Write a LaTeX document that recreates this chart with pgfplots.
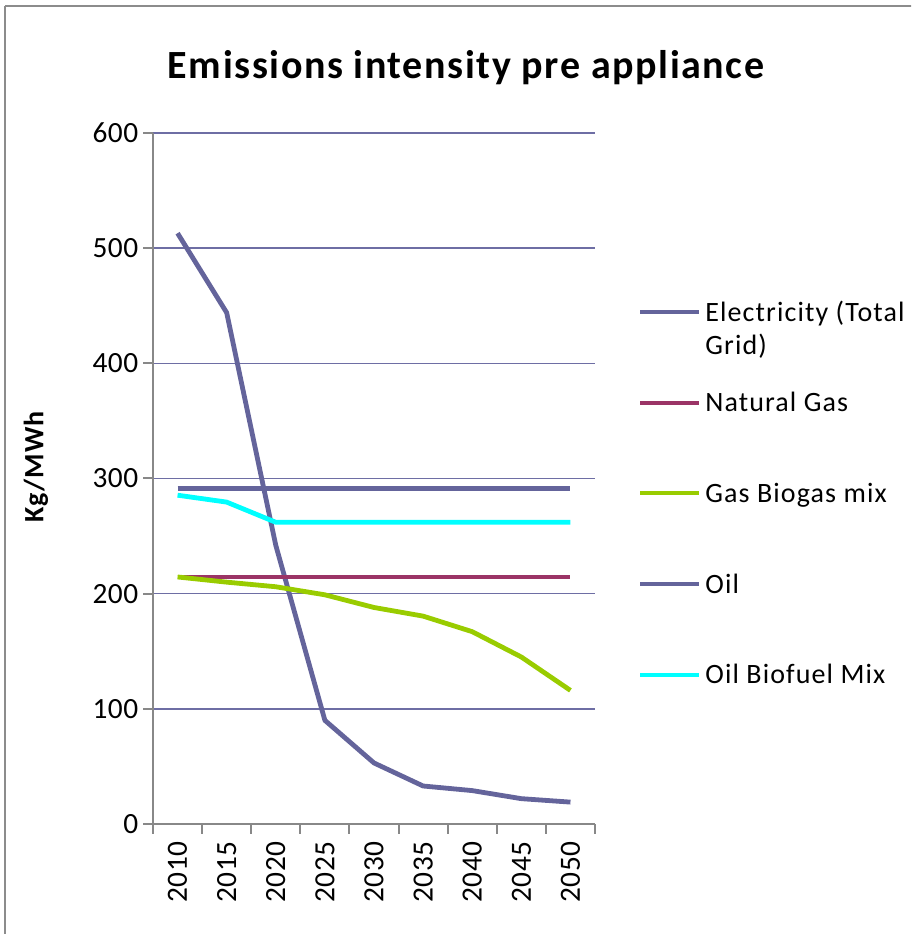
\documentclass[border=0pt]{standalone}
\usepackage{pgfplots}
\pgfplotsset{compat=1.18}
\usepackage{fontspec}
\setmainfont{Carlito}

\definecolor{elec}{HTML}{64649B}
\definecolor{gasred}{HTML}{9B3466}
\definecolor{biogreen}{HTML}{99CC00}
\definecolor{biocyan}{HTML}{00FFFF}
\definecolor{gridblue}{HTML}{6E6EA4}
\definecolor{axisgray}{HTML}{888888}
\definecolor{framegray}{HTML}{8C8C8C}

\begin{document}
\begin{tikzpicture}[x=0.75pt,y=0.75pt]
  % page size and outer chart frame
  \path[use as bounding box,clip] (0,0) rectangle (911,934);
  \draw[framegray,line width=1.5pt] (5,928) -- (5,-20) (5,928) -- (930,928);

  % title and vertical axis label
  \node[font=\bfseries\fontsize{30}{34}\selectfont\addfontfeature{LetterSpace=4}] at (466,934-68) {Emissions intensity pre appliance};
  \node[font=\bfseries\fontsize{21}{24}\selectfont\addfontfeature{LetterSpace=4},rotate=90] at (36,934-467) {Kg/MWh};

  \begin{axis}[
    at={(114.75pt,82.5pt)}, anchor=south west,
    scale only axis,
    width=331.5pt, height=518.25pt,
    xmin=0, xmax=9, ymin=0, ymax=600,
    axis x line=bottom, axis y line=left,
    axis line style={-, axisgray, line width=1.5pt},
    xtick={0,...,9},
    x tick label as interval,
    xticklabels={2010,2015,2020,2025,2030,2035,2040,2045,2050},
    ytick={0,100,...,600},
    tick align=outside,
    major tick length=7.5pt,
    tick style={axisgray, line width=1.5pt},
    ymajorgrids,
    grid style={gridblue, line width=1.2pt},
    /pgf/number format/assume math mode=true,
    tick label style={font=\fontsize{22}{26}\selectfont\addfontfeature{LetterSpace=2}},
    x tick label style={rotate=90, anchor=east, xshift=-2pt},
    clip=false,
    legend style={
      at={(1.0973,0.475)}, anchor=west,
      draw=none, fill=none, inner sep=0pt,
      row sep=46pt,
      font=\fontsize{21}{25}\selectfont\addfontfeature{LetterSpace=4},
      nodes={inner sep=0pt, text height=16pt, text depth=6pt, anchor=base west},
    },
    legend cell align=left,
    legend image code/.code={
      \draw[#1,line width=3pt] (0pt,6.8pt) -- (44pt,6.8pt);
      \path (47pt,6.8pt);
    },
    every axis plot/.append style={line width=3.6pt, line join=round},
  ]
    % Electricity (Total Grid)
    \addplot[elec] coordinates {
      (0.5,513) (1.5,444) (2.5,242) (3.5,90) (4.5,53)
      (5.5,33) (6.5,29) (7.5,22) (8.5,19)};
    % Natural Gas
    \addplot[gasred] coordinates {
      (0.5,214.5) (1.5,214.5) (2.5,214.5) (3.5,214.5) (4.5,214.5)
      (5.5,214.5) (6.5,214.5) (7.5,214.5) (8.5,214.5)};
    % Gas Biogas mix
    \addplot[biogreen] coordinates {
      (0.5,214.5) (1.5,210) (2.5,206) (3.5,199) (4.5,188)
      (5.5,180.5) (6.5,167) (7.5,145) (8.5,116)};
    % Oil
    \addplot[elec] coordinates {
      (0.5,291) (1.5,291) (2.5,291) (3.5,291) (4.5,291)
      (5.5,291) (6.5,291) (7.5,291) (8.5,291)};
    % Oil Biofuel Mix
    \addplot[biocyan] coordinates {
      (0.5,285.5) (1.5,279.5) (2.5,262) (3.5,262) (4.5,262)
      (5.5,262) (6.5,262) (7.5,262) (8.5,262)};
    \legend{{\begin{tabular}[t]{@{}l@{}}Electricity (Total\\Grid)\end{tabular}},
            Natural Gas, Gas Biogas mix, Oil, Oil Biofuel Mix}
  \end{axis}
\end{tikzpicture}
\end{document}
